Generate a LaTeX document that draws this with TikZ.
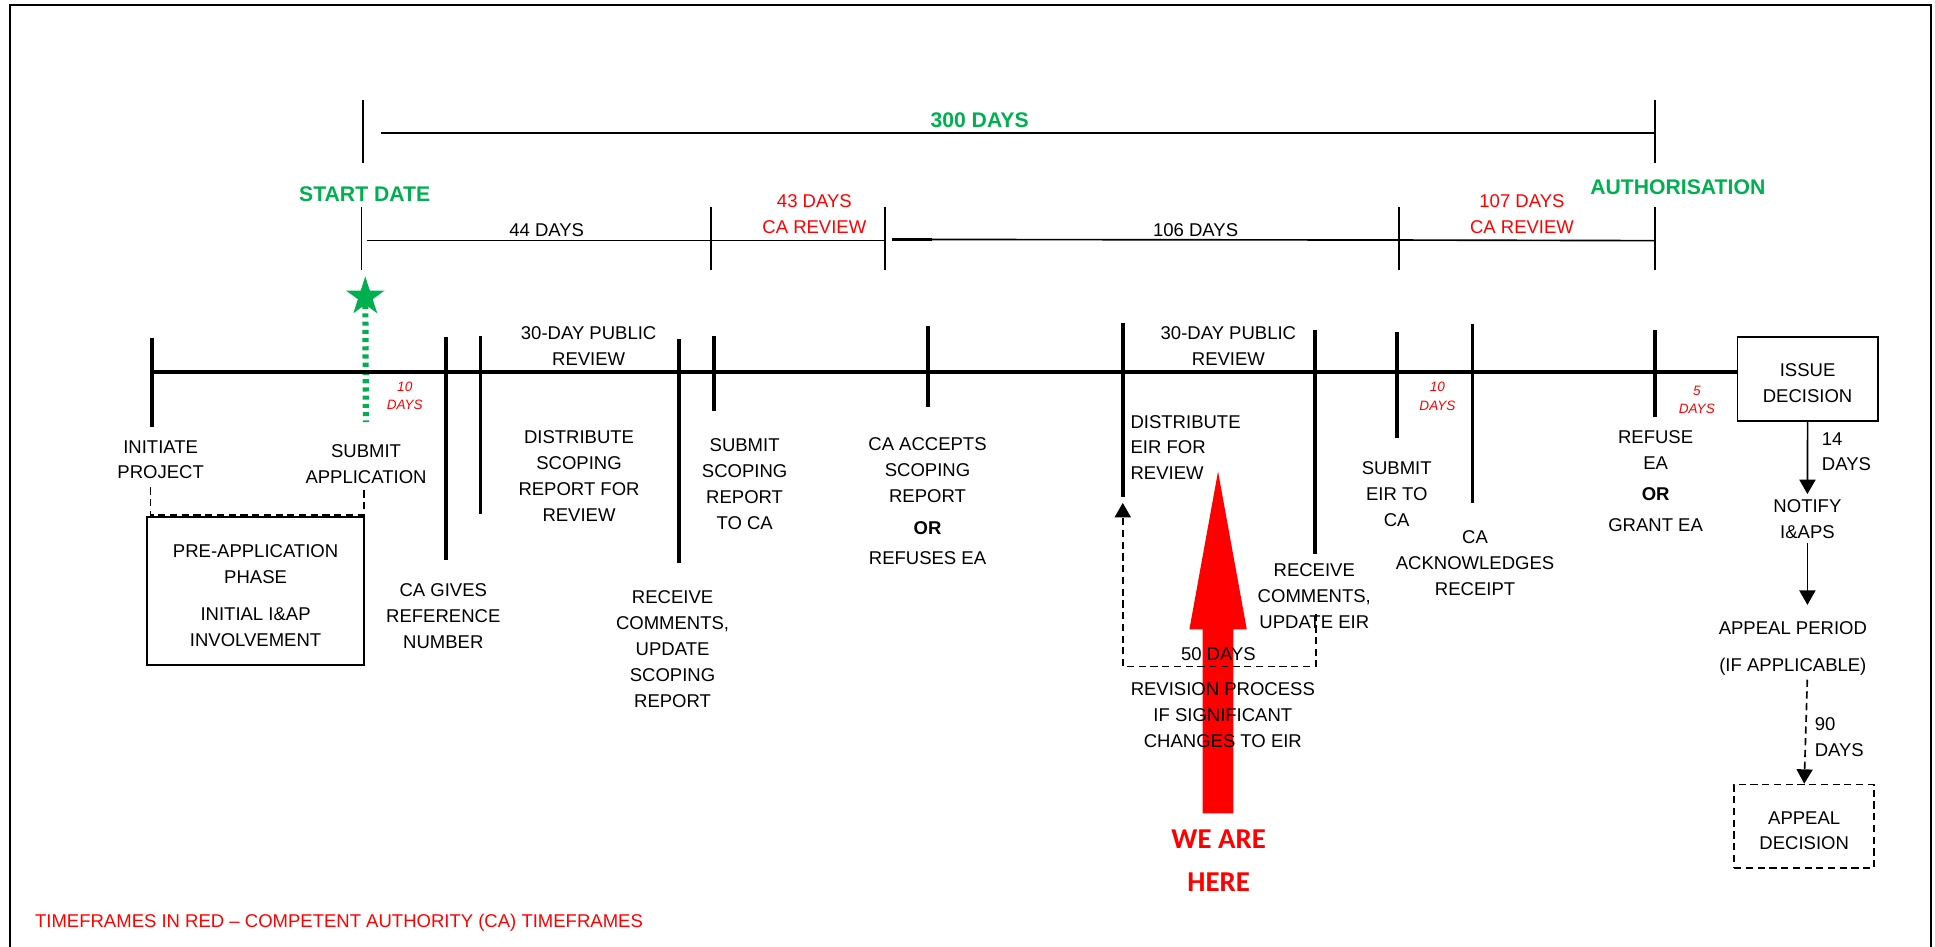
\documentclass[tikz,border=0pt]{standalone}
\usepackage{fontspec}
\setmainfont{Liberation Sans}
\newfontfamily\calibrifont{Carlito}
\usetikzlibrary{arrows.meta,shapes.geometric}
\definecolor{ogreen}{HTML}{00B050}
\definecolor{ored}{HTML}{FF0000}
\newcommand\boxstrut{\rule{0pt}{10.6pt}}
\begin{document}
\begin{tikzpicture}[x=0.6pt,y=-0.6pt,
 lbl/.style={font=\fontsize{9}{12.6}\selectfont, align=center, inner sep=0pt},
 redlbl/.style={lbl, text=ored},
 redsm/.style={font=\fontsize{6.6}{8.9}\selectfont\itshape, text=ored, align=center, inner sep=0pt},
 grn/.style={font=\fontsize{10.3}{12}\selectfont\bfseries, text=ogreen, inner sep=0pt},
 tk/.style={line width=1.7pt},
 tline/.style={line width=2pt},
 brk/.style={line width=0.8pt},
 outerframe/.style={line width=0.9pt},
 boxed/.style={lbl, draw, line width=0.9pt},
 dsh/.style={line width=0.8pt, dash pattern=on 3.5pt off 2.2pt},
 arr/.style={-{Triangle[length=7pt,width=7.8pt]}},
]
\useasboundingbox (0,0) rectangle (1568,767);
\draw[outerframe] (8.1,772) -- (8.1,4) -- (1564.6,4) -- (1564.6,772);

% top bracket: 300 days
\draw[brk] (294.4,81) -- (294.4,132);
\draw[brk] (309,108) -- (1341,108);
\draw[brk] (1341,81) -- (1341,132);
\node[grn] (d300) at (793.8,97.8) {300 DAYS};
\node[grn] (start) at (295.5,157) {START DATE};
\node[grn] (auth) at (1359.6,151.8) {AUTHORISATION};

% second bracket row
\foreach \x in {293,576,717,1133.6,1341} \draw[brk] (\x,167.5) -- (\x,218.5);
\draw[brk] (297,195) -- (717,195);
\draw[brk] (723,194) -- (1133.6,194.5) -- (1341,195);
\draw[line width=1.6pt] (723,194) -- (755,194);
\node[lbl] (d44) at (443,186.4) {44 DAYS};
\node[redlbl] (r43) at (659.9,173.2) {43 DAYS\\CA REVIEW};
\node[lbl] (d106) at (968.8,186.4) {106 DAYS};
\node[redlbl] (r107) at (1233.3,173.2) {107 DAYS\\CA REVIEW};

% star and dotted line
\node[star, star points=5, star point ratio=2.618, fill=ogreen, inner sep=0pt, minimum size=19.8pt] (star) at (296,240.5) {};
\coordinate (dotend) at (296.5,342);
\draw[ogreen, line width=3pt, dash pattern=on 2pt off 2pt] (star) -- (dotend);

% big red arrow
\fill[ored] (974.6,659) -- (974.6,510) -- (963.8,510) -- (987,382) -- (1010.3,510) -- (999.5,510) -- (999.5,659) -- cycle;

% issue decision box and main timeline
\node[boxed, minimum width=68.2pt, minimum height=40.9pt] (issue) at (1464.75,306.9) {\boxstrut ISSUE\\DECISION};
\coordinate (tlstart) at (123,301.5);
\draw[tline] (tlstart) -- (tlstart -| issue.west);
\foreach \x/\a/\b in {123/273.6/345.8, 361.3/273.4/453.8, 389.3/272.3/416.8, 550.4/275/456.5, 578.5/272.3/332.8, 751.9/264.2/329.6, 910/261.5/403, 1065.6/267.4/449, 1132/268.8/355.2, 1193.2/262.7/407.4, 1341/267.4/337.5}
  \draw[tk] (\x,\a) -- (\x,\b);

% labels on the timeline
\node[lbl] (pub1) at (477,280.3) {30-DAY PUBLIC\\REVIEW};
\node[lbl] (pub2) at (995.4,280.3) {30-DAY PUBLIC\\REVIEW};
\node[redsm] (s10a) at (328,321) {10\\DAYS};
\node[redsm] (s10b) at (1164.8,321.2) {10\\DAYS};
\node[redsm] (s5) at (1375,324.2) {5\\DAYS};

% labels below the timeline
\node[lbl] (initiate) at (130.2,372.5) {INITIATE\\PROJECT};
\node[lbl] (submitapp) at (296.6,375.8) {SUBMIT\\APPLICATION};
\node[boxed, minimum width=105.2pt, minimum height=71.8pt] (preapp) at (207.1,479.05) {\boxstrut PRE-APPLICATION\\PHASE\\[5.2pt]INITIAL I\&AP\\INVOLVEMENT};
\coordinate (ipl) at (121.9,395);
\coordinate (ipr) at (294.8,395);
\draw[dsh] (ipl) |- ([yshift=0.8pt]preapp.north -| ipr) -- (ipr);
\node[lbl] (cagives) at (359.2,499.1) {CA GIVES\\REFERENCE\\NUMBER};
\node[lbl] (distscop) at (469.2,386) {DISTRIBUTE\\SCOPING\\REPORT FOR\\REVIEW};
\node[lbl] (recscop) at (545,526) {RECEIVE\\COMMENTS,\\UPDATE\\SCOPING\\REPORT};
\node[lbl] (subscop) at (603.4,392.2) {SUBMIT\\SCOPING\\REPORT\\TO CA};
\node[lbl] (caacc) at (751.6,406.4) {CA ACCEPTS\\SCOPING\\REPORT\\[2.7pt]\textbf{OR}\\[2.3pt]REFUSES EA};
\node[lbl, align=left, anchor=west] (disteir) at (915.8,362.6) {DISTRIBUTE\\EIR FOR\\REVIEW};

% revision loop
\coordinate (revtop) at (1066.3,497.2);
\coordinate (revleft) at (909.8,540);
\coordinate (eirtick) at (909.8,407.5);
\draw[dsh, arr] (revtop) -- (revtop |- revleft) -- (revleft) -- (eirtick);
\node[lbl] (fifty) at (987.3,530.4) {50 DAYS};
\node[lbl] (revision) at (990.9,579.2) {REVISION PROCESS\\IF SIGNIFICANT\\CHANGES TO EIR};
\node[lbl] (receir) at (1065,483.1) {RECEIVE\\COMMENTS,\\UPDATE EIR};
\node[lbl] (subeir) at (1131.8,400.4) {SUBMIT\\EIR TO\\CA};
\node[lbl] (caack) at (1195.3,456.5) {CA\\ACKNOWLEDGES\\RECEIPT};
\node[lbl] (refuse) at (1341.6,389.9) {REFUSE\\EA\\[2.5pt]\textbf{OR}\\[2.5pt]GRANT EA};

% decision and appeal
\node[lbl] (notify) at (1464.6,420.5) {NOTIFY\\I\&APS};
\node[lbl, align=left, anchor=west] (d14) at (1476,366) {14\\DAYS};
\node[lbl] (appealper) at (1452.8,525.5) {APPEAL PERIOD\\[5.3pt](IF APPLICABLE)};
\node[lbl, align=left, anchor=west] (d90) at (1470.2,597.2) {90\\DAYS};
\node[boxed, dsh, minimum width=68.1pt, minimum height=40.5pt] (appealdec) at (1462,669.5) {\boxstrut APPEAL\\DECISION};
\draw[brk, arr, shorten >=2.4pt] (issue.south) -- (notify.north);
\draw[brk, arr, shorten <=1.9pt, shorten >=8pt] (notify.south) -- (notify.south |- appealper.north);
\draw[dsh, arr, shorten <=1.9pt] (notify.south |- appealper.south) -- (appealdec.north);

% we are here
\node[font=\calibrifont\bfseries\fontsize{14}{21}\selectfont, text=ored, align=center, inner sep=0pt] (here) at (987.5,697.7) {WE ARE\\HERE};

% footer
\node[lbl, text=ored, anchor=west] (footer) at (28.1,747.6) {TIMEFRAMES IN RED -- COMPETENT AUTHORITY (CA) TIMEFRAMES};
\end{tikzpicture}
\end{document}
